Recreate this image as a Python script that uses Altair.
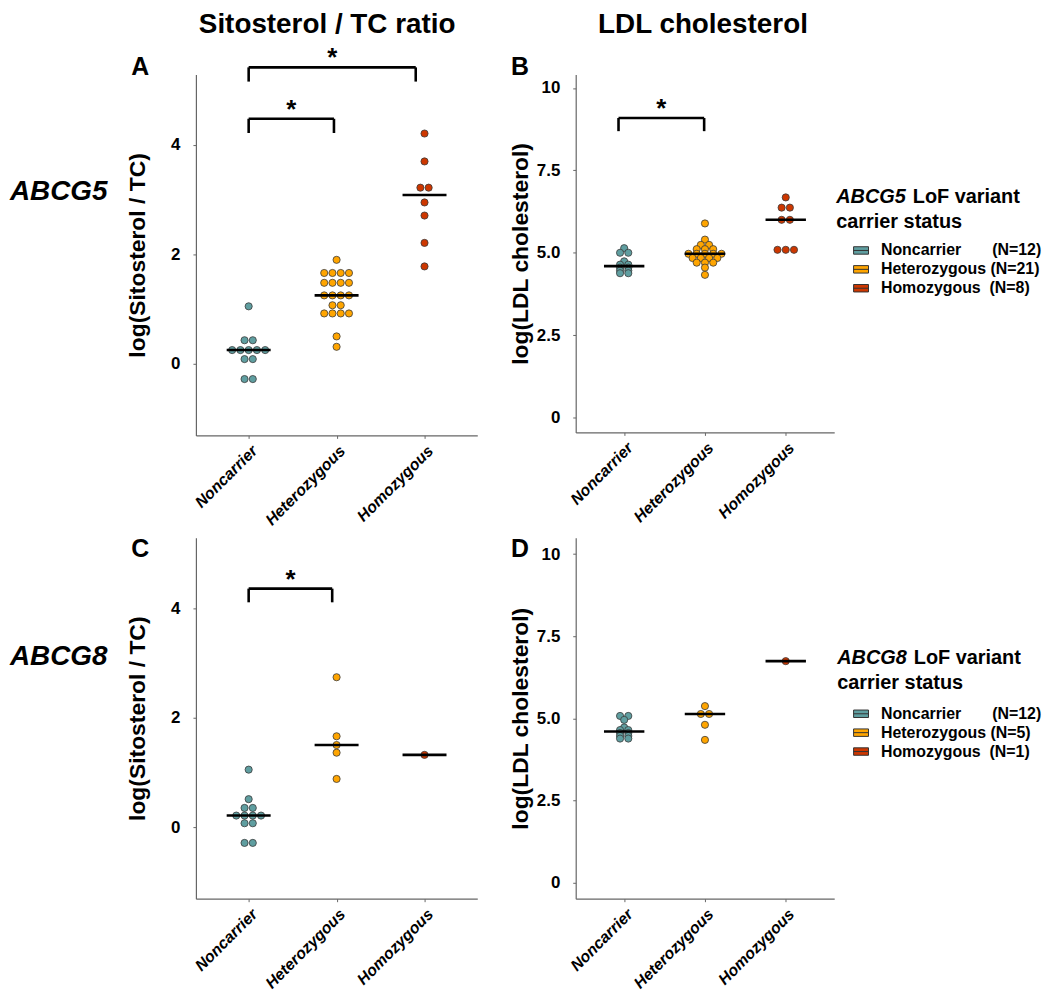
import altair as alt
import pandas as pd

# ---------------- data ----------------
categories = ["Noncarrier", "Heterozygous", "Homozygous"]
colors = ["#5F9EA0", "#FFA500", "#CD3700"]

# ABCG5 - log(Sitosterol / TC)
a_non = [1.05, 0.43, 0.43, 0.25, 0.25, 0.25, 0.25, 0.25, 0.085, 0.085, -0.28, -0.28]
a_het = [1.90, 1.66, 1.66, 1.66, 1.66, 1.48, 1.48, 1.48, 1.48, 1.25, 1.25, 1.25, 1.25,
         1.07, 1.07, 0.92, 0.92, 0.92, 0.92, 0.50, 0.31]
a_hom = [4.21, 3.70, 3.22, 3.22, 2.95, 2.71, 2.21, 1.78]

# ABCG5 - log(LDL cholesterol)
b_non = [5.14, 5.00, 5.00, 4.74, 4.64, 4.64, 4.55, 4.55, 4.46, 4.46, 4.38, 4.38]
b_het = [5.89, 5.40, 5.24, 5.24, 5.11, 5.11, 5.11, 4.97, 4.97, 4.97, 4.97, 4.97,
         4.84, 4.84, 4.84, 4.84, 4.70, 4.70, 4.70, 4.55, 4.33]
b_hom = [6.68, 6.37, 6.37, 6.00, 6.00, 5.09, 5.09, 5.09]

# ABCG8 - log(Sitosterol / TC)
c_non = [1.05, 0.51, 0.35, 0.35, 0.21, 0.21, 0.21, 0.21, 0.07, 0.07, -0.29, -0.29]
c_het = [2.74, 1.66, 1.50, 1.36, 0.88]
c_hom = [1.32]

# ABCG8 - log(LDL cholesterol)
d_non = [5.07, 5.07, 4.95, 4.72, 4.64, 4.64, 4.55, 4.55, 4.46, 4.46, 4.38, 4.38]
d_het = [5.37, 5.13, 5.13, 4.80, 4.34]
d_hom = [6.74]

# significance brackets: (from group, to group, height, drop)
a_brackets = {"x1": [0.0, 0.0], "x2": [0.97, 1.90], "y": [4.48, 5.42], "drop": [0.26, 0.26]}
b_brackets = {"x1": [-0.07], "x2": [0.99], "y": [9.09], "drop": [0.40]}
c_brackets = {"x1": [0.0], "x2": [0.95], "y": [4.36], "drop": [0.25]}

sito_ticks = [0, 2, 4]
ldl_ticks = [0, 2.5, 5, 7.5, 10]
sito_domain = [-1.31, 5.29]
ldl_domain_top = [-0.45, 10.41]
ldl_domain_bottom = [-0.5, 10.5]

# ---------------- style ----------------
FONT = "Liberation Sans"
XDOM = [-0.6, 2.6]
SP = 8.3          # px between neighbouring dots in a row
W_LEFT, W_RIGHT, H = 283, 260, 363
AXIS_GREY = "#666666"


def panel_df(lists, width):
    ppu = width / (XDOM[1] - XDOM[0])
    recs = []
    for gi, (cat, vals) in enumerate(zip(categories, lists)):
        counts = {}
        for v in vals:
            counts[v] = counts.get(v, 0) + 1
        seen = {}
        for v in vals:
            k = seen.get(v, 0)
            seen[v] = k + 1
            off = (k - (counts[v] - 1) / 2) * SP / ppu
            recs.append({"group": cat, "gi": gi, "value": v, "xpos": gi + off})
    return pd.DataFrame(recs)


label_map = "{" + ",".join(f"'{i}':'{c}'" for i, c in enumerate(categories)) + "}"


def text_layer(txt, x, y, size, style="normal", align="left", baseline="middle", angle=0):
    return alt.Chart(pd.DataFrame({"t": [txt]})).mark_text(
        font=FONT, fontSize=size, fontWeight="bold", fontStyle=style, align=align,
        baseline=baseline, color="black", angle=angle
    ).encode(x=alt.value(x), y=alt.value(y), text="t:N")


def panel(lists, width, height, ydom, yticks, ytitle, ylabel_expr, brackets, extras,
          legend_counts=None, title_padding=16):
    df = panel_df(lists, width)
    xscale = alt.Scale(domain=XDOM, nice=False, zero=False)
    yscale = alt.Scale(domain=ydom, nice=False, zero=False)
    xaxis = alt.Axis(values=[0, 1, 2], labelExpr=f"{label_map}[''+datum.value]", labelAngle=-45,
                     labelAlign="right", labelBaseline="top", labelPadding=4, labelOverlap=False,
                     labelFont=FONT, labelFontSize=16, labelFontWeight="bold", labelFontStyle="italic",
                     labelColor="black", tickSize=3, tickColor=AXIS_GREY, domainColor=AXIS_GREY,
                     domainWidth=1.2, grid=False, title=None)
    yaxis = alt.Axis(values=yticks, labelExpr=ylabel_expr, labelFont=FONT, labelFontSize=17,
                     labelFontWeight="bold", labelColor="black", labelPadding=13, tickSize=3,
                     labelOverlap=False,
                     tickColor=AXIS_GREY, domainColor=AXIS_GREY, domainWidth=1.2, grid=False,
                     title=ytitle, titleFont=FONT, titleFontSize=23, titleFontWeight="bold",
                     titleColor="black", titlePadding=title_padding)

    def X(field):
        return alt.X(field, scale=xscale, axis=xaxis)

    def Y(field):
        return alt.Y(field, scale=yscale, axis=yaxis)

    if legend_counts is not None:
        pads = [7, 1, 2]
        lm = "{" + ",".join(
            f"'{c}':'{c}{chr(160) * p}(N={n})'" for c, p, n in zip(categories, pads, legend_counts)
        ) + "}"
        legend = alt.Legend(title=None, orient="none", legendX=279, legendY=169, padding=0,
                            symbolType="M-1,-0.5H1V0.5H-1Z M-1,0H1", symbolSize=225,
                            symbolStrokeColor="#333333", symbolStrokeWidth=1, symbolOpacity=1,
                            labelFont=FONT, labelFontSize=16, labelFontWeight="bold",
                            labelColor="black", labelOffset=12, rowPadding=3,
                            labelExpr=f"{lm}[datum.label]", labelLimit=400)
    else:
        legend = None

    base = alt.Chart(df)
    pts = base.mark_circle(size=52, stroke="#3a3a3a", strokeWidth=0.8, opacity=1).encode(
        x=X("xpos:Q"), y=Y("value:Q"),
        color=alt.Color("group:N", scale=alt.Scale(domain=categories, range=colors), legend=legend),
    )
    med = base.transform_aggregate(med="median(value)", groupby=["gi"]).transform_calculate(
        x1="datum.gi - 0.25", x2="datum.gi + 0.25"
    ).mark_rule(strokeWidth=2.6, color="black").encode(x=X("x1:Q"), x2="x2:Q", y=Y("med:Q"))

    layers = [pts, med]
    if brackets is not None:
        bdf = pd.DataFrame(brackets)
        bb = alt.Chart(bdf).transform_calculate(ylow="datum.y - datum.drop",
                                                xm="(datum.x1 + datum.x2) / 2")
        layers += [
            bb.mark_rule(strokeWidth=2.6, color="black").encode(x=X("x1:Q"), x2="x2:Q", y=Y("y:Q")),
            bb.mark_rule(strokeWidth=2.6, color="black").encode(x=X("x1:Q"), y=Y("y:Q"), y2="ylow:Q"),
            bb.mark_rule(strokeWidth=2.6, color="black").encode(x=X("x2:Q"), y=Y("y:Q"), y2="ylow:Q"),
            bb.mark_text(text="*", font=FONT, fontSize=26, fontWeight="bold", baseline="alphabetic",
                         dy=-1, color="black").encode(x=X("xm:Q"), y=Y("y:Q")),
        ]
    layers += extras
    return alt.layer(*layers).properties(width=width, height=height)


sito_expr = "format(datum.value, 'd')"
ldl_expr = "datum.value == 0 ? '0' : datum.value == 10 ? '10' : format(datum.value, '.1f')"

A = panel([a_non, a_het, a_hom], W_LEFT, H, sito_domain, sito_ticks, "log(Sitosterol / TC)", sito_expr,
          a_brackets, [
              text_layer("Sitosterol / TC ratio", 132, -50, 28, align="center"),
              text_layer("A", -56, -7, 25, align="center"),
              text_layer("ABCG5", -187, 118, 28, style="italic"),
          ], title_padding=21)
B = panel([b_non, b_het, b_hom], W_RIGHT, H - 3, ldl_domain_top, ldl_ticks, "log(LDL cholesterol)",
          ldl_expr, b_brackets, [
              text_layer("LDL cholesterol", 128, -50, 28, align="center"),
              text_layer("B", -56, -7, 25, align="center"),
              text_layer("ABCG5", 262, 123, 20, style="italic"),
              text_layer("LoF variant", 339, 123, 20),
              text_layer("carrier status", 262, 148, 20),
          ], legend_counts=[len(b_non), len(b_het), len(b_hom)], title_padding=4)
C = panel([c_non, c_het, c_hom], W_LEFT, H, sito_domain, sito_ticks, "log(Sitosterol / TC)", sito_expr,
          c_brackets, [
              text_layer("C", -56, 11, 25, align="center"),
              text_layer("ABCG8", -187, 120, 28, style="italic"),
          ], title_padding=21)
D = panel([d_non, d_het, d_hom], W_RIGHT, H, ldl_domain_bottom, ldl_ticks, "log(LDL cholesterol)",
          ldl_expr, None, [
              text_layer("D", -56, 11, 25, align="center"),
              text_layer("ABCG8", 263, 121, 20, style="italic"),
              text_layer("LoF variant", 340, 121, 20),
              text_layer("carrier status", 263, 146, 20),
          ], legend_counts=[len(d_non), len(d_het), len(d_hom)], title_padding=4)

row1 = alt.hconcat(A, B, spacing=32).resolve_scale(color="independent")
row2 = alt.hconcat(C, D, spacing=32).resolve_scale(color="independent")
chart = alt.vconcat(row1, row2, spacing=8).resolve_scale(color="independent").properties(
    padding={"left": 2, "top": 0, "right": 0, "bottom": 0}, background="white"
).configure_view(stroke=None)

chart.save("out.html", embed_options={"renderer": "svg", "actions": False})
